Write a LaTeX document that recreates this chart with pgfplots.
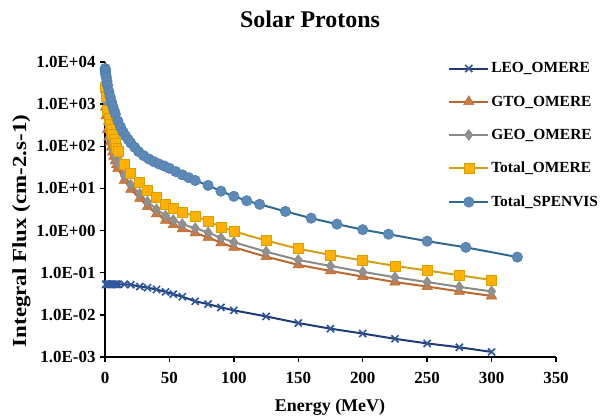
\documentclass[border=0pt]{standalone}
\usepackage{pgfplots}
\pgfplotsset{compat=1.18}
\usepackage{pgfplotstable}
\usepackage{fontspec}
\setmainfont{Liberation Serif}
\definecolor{leoline}{HTML}{203C78}
\definecolor{leomark}{HTML}{30589A}
\definecolor{gtoline}{HTML}{BA6830}
\definecolor{gtomark}{HTML}{CC7A3E}
\definecolor{geoline}{HTML}{8A8A8A}
\definecolor{geomark}{HTML}{909090}
\definecolor{totline}{HTML}{D4A017}
\definecolor{totmark}{HTML}{FFB000}
\definecolor{totedge}{HTML}{D9A000}
\definecolor{spline}{HTML}{2E6A90}
\definecolor{spmark}{HTML}{5D89B6}
\definecolor{spedge}{HTML}{4F7EAD}
\pgfplotstableread{
E LEO GTO GEO TOT
0.5 0.053 850 1200 2500
1 0.053 530 720 1500
2 0.053 250 340 700
3 0.053 165 220 450
4 0.053 125 165 330
5 0.053 95 125 250
6 0.053 73 97 190
7 0.053 58 77 150
8 0.053 45 60 115
9 0.053 36 48 92
10 0.053 30 39 75
15 0.053 15.5 20 38
20 0.052 9.5 12.2 23
27 0.047 5.8 7.5 14
33 0.044 3.7 4.8 9.0
40 0.040 2.5 3.2 6.0
47 0.035 1.75 2.25 4.2
53 0.031 1.38 1.78 3.3
60 0.027 1.1 1.42 2.7
70 0.021 0.88 1.14 2.2
80 0.018 0.69 0.90 1.68
90 0.015 0.51 0.67 1.22
100 0.0128 0.40 0.53 0.96
125 0.0092 0.24 0.315 0.58
150 0.0064 0.154 0.20 0.37
175 0.0047 0.11 0.145 0.265
200 0.0036 0.081 0.105 0.195
225 0.0027 0.060 0.078 0.145
250 0.0021 0.047 0.060 0.113
275 0.0017 0.036 0.046 0.087
300 0.00132 0.028 0.036 0.067
}\omere
\pgfplotstableread{
E F
0.1 7000
0.2 6500
0.3 6000
0.5 5300
0.7 4800
1 4300
1.5 3500
2 2800
3 2000
4 1500
5 1150
6 900
7 720
8 580
10 400
12 290
14 220
16 175
18 145
20 120
23 95
26 75
30 60
34 50
38 43
42 38
46 34
50 30
55 25
60 21
65 18
70 15.5
80 11.8
90 8.6
100 6.5
110 5.1
120 4.2
140 2.85
160 1.97
180 1.42
200 1.05
220 0.82
250 0.56
280 0.40
320 0.235
}\spenvis
\begin{document}
\begin{tikzpicture}
\useasboundingbox (0,0) rectangle (607bp,419bp);
\begin{axis}[
  at={(105bp,62bp)}, anchor=south west,
  scale only axis, width=451bp, height=295bp,
  xmin=0, xmax=350, ymin=1e-3, ymax=1e4, ymode=log,
  axis x line*=bottom, axis y line*=left,
  axis line style={line width=1.8pt, -},
  xtick={0,50,100,150,200,250,300,350},
  xticklabels={0,50,100,150,200,250,300,350},
  ytick={1e-3,1e-2,1e-1,1,1e1,1e2,1e3,1e4},
  yticklabels={1.0E-03,1.0E-02,1.0E-01,1.0E+00,1.0E+01,1.0E+02,1.0E+03,1.0E+04},
  minor tick num=0, yminorticks=false,
  tick align=outside, major tick length=5bp,
  tick style={line width=1.3pt, black},
  ticklabel style={font=\bfseries\fontsize{17}{19}\selectfont},
  yticklabel style={xshift=-1bp},
  xticklabel style={yshift=-7bp},
  clip=false,
  legend style={at={(0.754,1.012)}, anchor=north west, draw=none, fill=none,
    font=\bfseries\fontsize{15.5}{17}\selectfont, row sep=17.5bp,
    cells={anchor=west}},
  legend image code/.code={\draw[mark repeat=2,mark phase=2] plot coordinates {(0cm,0cm) (0.69cm,0cm) (1.38cm,0cm)};},
]
\addplot[leoline, line width=2pt, mark=x, mark size=5bp, mark options={leomark, line width=1.7pt}] table[x=E,y=LEO]{\omere};
\addlegendentry{LEO\_OMERE}
\addplot[gtoline, line width=2pt, mark=triangle*, mark size=6bp, mark options={fill=gtomark, draw=gtoline, line width=0.5pt}] table[x=E,y=GTO]{\omere};
\addlegendentry{GTO\_OMERE}
\addplot[geoline, line width=2pt, mark=diamond*, mark size=5.5bp, mark options={fill=geomark, draw=geoline, line width=0.5pt}] table[x=E,y=GEO]{\omere};
\addlegendentry{GEO\_OMERE}
\addplot[totline, line width=2pt, mark=square*, mark size=5bp, mark options={fill=totmark, draw=totedge, line width=0.6pt}] table[x=E,y=TOT]{\omere};
\addlegendentry{Total\_OMERE}
\addplot[spline, line width=2pt, mark=*, mark size=5.2bp, mark options={fill=spmark, draw=spedge, line width=0.6pt}] table[x=E,y=F]{\spenvis};
\addlegendentry{Total\_SPENVIS}
\end{axis}
\node[anchor=base, font=\bfseries\fontsize{24}{28}\selectfont] at (310bp,391bp) {Solar Protons};
\node[anchor=base, font=\bfseries\fontsize{18}{20}\selectfont] at (330bp,8bp) {Energy (MeV)};
\node[rotate=90, anchor=base, font=\bfseries\fontsize{20}{22}\selectfont] at (26bp,188bp) {\scalebox{1.15}[1]{Integral Flux (cm-2.s-1)}};
\end{tikzpicture}
\end{document}
